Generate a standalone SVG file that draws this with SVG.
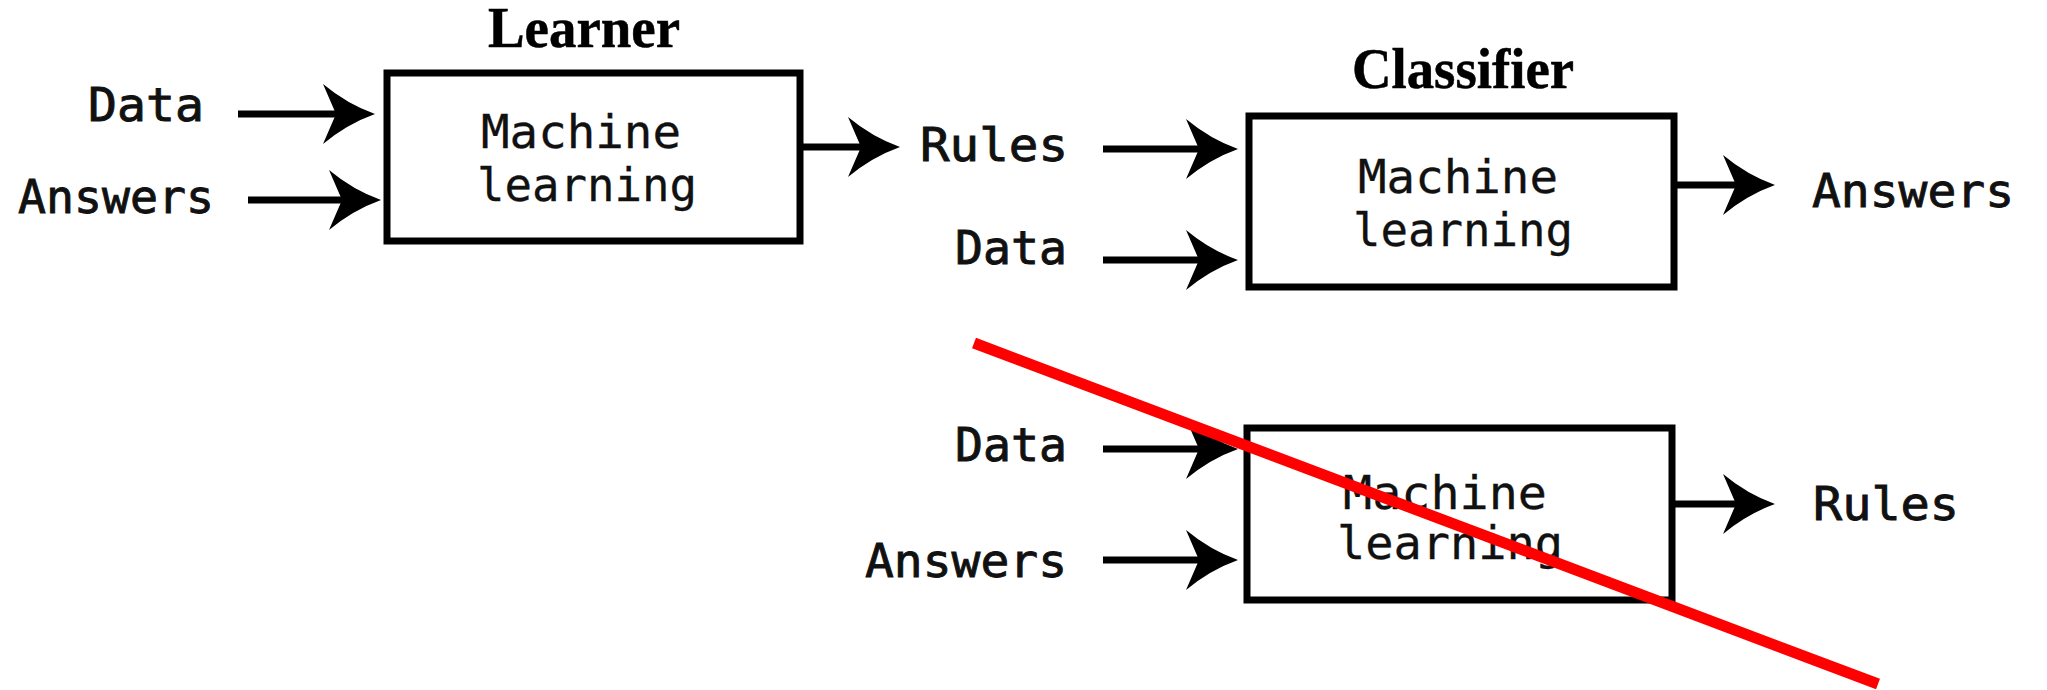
<svg xmlns="http://www.w3.org/2000/svg" xmlns:xlink="http://www.w3.org/1999/xlink" width="2047" height="690" viewBox="0 0 2047 690">
<style>
.bg{fill:#fff}
.box{fill:#fff;stroke:#000;stroke-width:7}
.lbl{font-family:"DejaVu Sans Mono","Liberation Mono",monospace;font-size:46px;fill:#111;text-anchor:middle;stroke:#111;stroke-width:0.9}
.inner{font-family:"DejaVu Sans Mono","Liberation Mono",monospace;font-size:46px;fill:#111;text-anchor:middle;stroke:#111;stroke-width:0.3}
.title{font-family:"Liberation Serif","DejaVu Serif",serif;font-weight:bold;font-size:57px;fill:#000;text-anchor:middle;stroke:#000;stroke-width:0.5}
.shaft{stroke:#000;stroke-width:7;fill:none}
.cross{stroke:#ff0000;stroke-width:11;fill:none}
</style>
<defs>
<path id="ah" d="M0,0 Q-28,-10 -52,-30 L-39,0 L-52,30 Q-28,10 0,0Z" fill="#000"/>
</defs>
<rect class="bg" x="0" y="0" width="2047" height="690"/>

<g id="title-learner"><text class="title" x="584" y="47" textLength="192" lengthAdjust="spacingAndGlyphs">Learner</text></g>
<g id="title-classifier"><text class="title" x="1463" y="88" textLength="222" lengthAdjust="spacingAndGlyphs">Classifier</text></g>

<g id="learner-data"><text class="lbl" x="146" y="121" textLength="116" lengthAdjust="spacingAndGlyphs">Data</text></g>
<g id="learner-answers"><text class="lbl" x="116" y="213" textLength="196" lengthAdjust="spacingAndGlyphs">Answers</text></g>
<g id="learner-box">
<rect class="box" x="387" y="73" width="413" height="168"/>
<text class="inner" x="581" y="148" textLength="200" lengthAdjust="spacingAndGlyphs">Machine</text>
<text class="inner" x="587" y="201" textLength="220" lengthAdjust="spacingAndGlyphs">learning</text>
</g>
<g id="rules-top"><text class="lbl" x="994" y="161" textLength="148" lengthAdjust="spacingAndGlyphs">Rules</text></g>
<g id="classifier-data"><text class="lbl" x="1011" y="264" textLength="112" lengthAdjust="spacingAndGlyphs">Data</text></g>
<g id="classifier-box">
<rect class="box" x="1249" y="116" width="425" height="171"/>
<text class="inner" x="1458" y="193" textLength="200" lengthAdjust="spacingAndGlyphs">Machine</text>
<text class="inner" x="1463" y="246" textLength="220" lengthAdjust="spacingAndGlyphs">learning</text>
</g>
<g id="answers-right"><text class="lbl" x="1913" y="207" textLength="202" lengthAdjust="spacingAndGlyphs">Answers</text></g>

<g id="bottom-data"><text class="lbl" x="1011" y="461" textLength="112" lengthAdjust="spacingAndGlyphs">Data</text></g>
<g id="bottom-answers"><text class="lbl" x="966" y="577" textLength="202" lengthAdjust="spacingAndGlyphs">Answers</text></g>
<g id="bottom-box">
<rect class="box" x="1247" y="428" width="425" height="172"/>
<text class="inner" x="1445" y="509" textLength="204" lengthAdjust="spacingAndGlyphs">Machine</text>
<text class="inner" x="1450" y="559" textLength="226" lengthAdjust="spacingAndGlyphs">learning</text>
</g>
<g id="rules-bottom"><text class="lbl" x="1886" y="520" textLength="146" lengthAdjust="spacingAndGlyphs">Rules</text></g>

<g id="connectors">
<line class="shaft" x1="238" y1="114" x2="340" y2="114"/><use xlink:href="#ah" x="375" y="114"/>
<line class="shaft" x1="248" y1="200" x2="346" y2="200"/><use xlink:href="#ah" x="381" y="200"/>
<line class="shaft" x1="803" y1="147" x2="864" y2="147"/><use xlink:href="#ah" x="900" y="147"/>
<line class="shaft" x1="1103" y1="149" x2="1202" y2="149"/><use xlink:href="#ah" x="1238" y="149"/>
<line class="shaft" x1="1103" y1="260" x2="1202" y2="260"/><use xlink:href="#ah" x="1238" y="260"/>
<line class="shaft" x1="1677" y1="185" x2="1740" y2="185"/><use xlink:href="#ah" x="1775" y="185"/>
<line class="shaft" x1="1103" y1="449" x2="1202" y2="449"/><use xlink:href="#ah" x="1238" y="449"/>
<line class="shaft" x1="1103" y1="560" x2="1202" y2="560"/><use xlink:href="#ah" x="1238" y="560"/>
<line class="shaft" x1="1675" y1="504" x2="1740" y2="504"/><use xlink:href="#ah" x="1775" y="504"/>
</g>

<g id="strike"><line class="cross" x1="974" y1="343" x2="1878" y2="684"/></g>
</svg>
